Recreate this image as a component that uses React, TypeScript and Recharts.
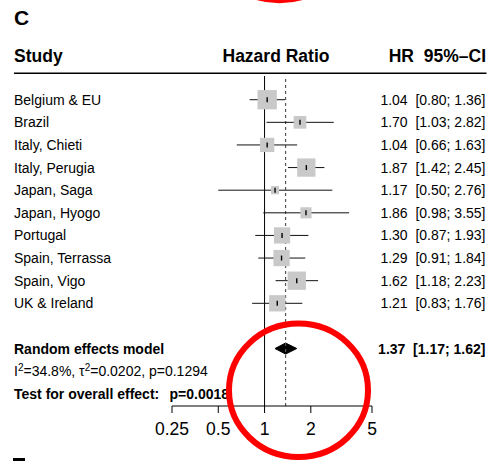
import React from 'react';
import { ComposedChart, Scatter, Area, XAxis, YAxis, ErrorBar, ReferenceLine } from 'recharts';

const FONT = '"Liberation Sans", Arial, Helvetica, sans-serif';

// study level results
const studies = [
  'Belgium & EU',
  'Brazil',
  'Italy, Chieti',
  'Italy, Perugia',
  'Japan, Saga',
  'Japan, Hyogo',
  'Portugal',
  'Spain, Terrassa',
  'Spain, Vigo',
  'UK & Ireland',
];
const hazardRatio = [1.04, 1.7, 1.04, 1.87, 1.17, 1.86, 1.3, 1.29, 1.62, 1.21];
const ciLower = [0.8, 1.03, 0.66, 1.42, 0.5, 0.98, 0.87, 0.91, 1.18, 0.83];
const ciUpper = [1.36, 2.82, 1.63, 2.45, 2.76, 3.55, 1.93, 1.84, 2.23, 1.76];
const weights = [15.6, 6.7, 8.5, 14.0, 2.8, 5.2, 11.1, 11.1, 14.0, 11.1];

// pooled result
const pooledLabel = 'Random effects model';
const pooledHR = 1.37;
const pooledLower = 1.17;
const pooledUpper = 1.62;
const i2 = '34.8%';
const tau2 = '0.0202';
const pHeterogeneity = '0.1294';
const pOverall = '0.0018';

const xTicks = [0.25, 0.5, 1, 2, 5];

const pooledRow = studies.length + 1;
const hetRow = pooledRow + 1;
const testRow = pooledRow + 2;
const rowTicks = [...studies.map((_, i) => i), pooledRow, hetRow, testRow];

const maxWeight = Math.max(...weights);
const MAX_SIDE = 19.3;
const DIAMOND_HALF = 0.245;

const studyData = studies.map((name, i) => ({
  name,
  x: hazardRatio[i],
  row: i,
  w: weights[i],
  err: [hazardRatio[i] - ciLower[i], ciUpper[i] - hazardRatio[i]],
}));

const diamondData = [
  { x: pooledLower, y: [pooledRow, pooledRow] },
  { x: pooledHR, y: [pooledRow - DIAMOND_HALF, pooledRow + DIAMOND_HALF] },
  { x: pooledUpper, y: [pooledRow, pooledRow] },
];

const fmt = (v: number) => v.toFixed(2);

const Square = (props: any) => {
  const { cx, cy, payload } = props;
  const s = MAX_SIDE * Math.sqrt(payload.w / maxWeight);
  return <rect x={cx - s / 2} y={cy - s / 2} width={s} height={s} fill="#c9c9c9" />;
};

const CenterTick = (props: any) => {
  const { cx, cy } = props;
  return <line x1={cx} x2={cx} y1={cy - 2.5} y2={cy + 2.5} stroke="#000" strokeWidth={1.4} />;
};

const RowTick = (props: any) => {
  const { y, payload } = props;
  const r = payload.value;
  const common = { fontFamily: FONT, fontSize: 14, fill: '#000', dy: '0.36em', style: { whiteSpace: 'pre' as const } };
  if (r < studies.length) {
    return (
      <g>
        <text x={14} y={y} {...common}>{studies[r]}</text>
        <text x={485.5} y={y} textAnchor="end" {...common}>
          {`${fmt(hazardRatio[r])}  [${fmt(ciLower[r])}; ${fmt(ciUpper[r])}]`}
        </text>
      </g>
    );
  }
  if (r === pooledRow) {
    return (
      <g>
        <text x={14} y={y} fontWeight="bold" {...common}>{pooledLabel}</text>
        <text x={485.5} y={y} textAnchor="end" fontWeight="bold" {...common}>
          {`${fmt(pooledHR)}  [${fmt(pooledLower)}; ${fmt(pooledUpper)}]`}
        </text>
      </g>
    );
  }
  if (r === hetRow) {
    return (
      <text x={14} y={y} {...common}>
        <tspan>I</tspan>
        <tspan fontSize={10} dy={-5}>2</tspan>
        <tspan dy={5}>{`=${i2}, τ`}</tspan>
        <tspan fontSize={10} dy={-5}>2</tspan>
        <tspan dy={5}>{`=${tau2}, p=${pHeterogeneity}`}</tspan>
      </text>
    );
  }
  return (
    <g>
      <text x={14} y={y} fontWeight="bold" {...common}>Test for overall effect:</text>
      <text x={169.5} y={y} fontWeight="bold" {...common}>{`p=${pOverall}`}</text>
    </g>
  );
};

export default function App() {
  return (
    <div style={{ position: 'absolute', left: 0, top: 0, width: 493, height: 461, background: '#fff' }}>
      <ComposedChart width={493} height={461} margin={{ top: 76, right: 121, bottom: 0, left: 171 }}>
        <XAxis
          type="number"
          dataKey="x"
          scale="log"
          domain={[0.25, 5]}
          allowDataOverflow
          ticks={xTicks}
          interval={0}
          height={55}
          tickSize={7}
          tickMargin={10}
          stroke="#000"
          tick={{ fill: '#000', fontSize: 17.5, fontFamily: FONT }}
        />
        <YAxis
          type="number"
          dataKey="row"
          domain={[-1.048, 13.54]}
          reversed
          allowDataOverflow
          width={1}
          axisLine={false}
          tickLine={false}
          ticks={rowTicks}
          interval={0}
          tick={<RowTick />}
        />
        <ReferenceLine x={1} stroke="#000" strokeWidth={1} />
        <ReferenceLine x={pooledHR} stroke="#555" strokeWidth={1.2} strokeDasharray="3 3" />
        <Scatter data={studyData} shape={<Square />} isAnimationActive={false} />
        <Scatter data={studyData} shape={<CenterTick />} isAnimationActive={false}>
          <ErrorBar dataKey="err" direction="x" width={0} stroke="#111" strokeWidth={1} />
        </Scatter>
        <Area
          data={diamondData}
          dataKey="y"
          type="linear"
          fill="#000"
          fillOpacity={1}
          stroke="#000"
          strokeWidth={1}
          dot={false}
          activeDot={false}
          isAnimationActive={false}
        />
      </ComposedChart>
      <svg
        width={493}
        height={461}
        style={{ position: 'absolute', left: 0, top: 0, pointerEvents: 'none' }}
      >
        <text x={14} y={25} fontFamily={FONT} fontWeight="bold" fontSize={21}>C</text>
        <text x={14} y={62} fontFamily={FONT} fontWeight="bold" fontSize={17.5}>Study</text>
        <text x={222.5} y={62} fontFamily={FONT} fontWeight="bold" fontSize={17.5}>Hazard Ratio</text>
        <text x={486} y={62} textAnchor="end" fontFamily={FONT} fontWeight="bold" fontSize={17.5} style={{ whiteSpace: 'pre' }}>
          {'HR  95%–CI'}
        </text>
        <line x1={14} x2={486.5} y1={73.3} y2={73.3} stroke="#000" strokeWidth={1.5} />
        <ellipse cx={279.5} cy={-79.7} rx={80} ry={80} fill="none" stroke="#ff0000" strokeWidth={6} />
        <ellipse cx={298.5} cy={390.3} rx={69.5} ry={66.7} fill="none" stroke="#ff0000" strokeWidth={6} />
        <rect x={13} y={458} width={12} height={3} fill="#000" />
      </svg>
    </div>
  );
}
